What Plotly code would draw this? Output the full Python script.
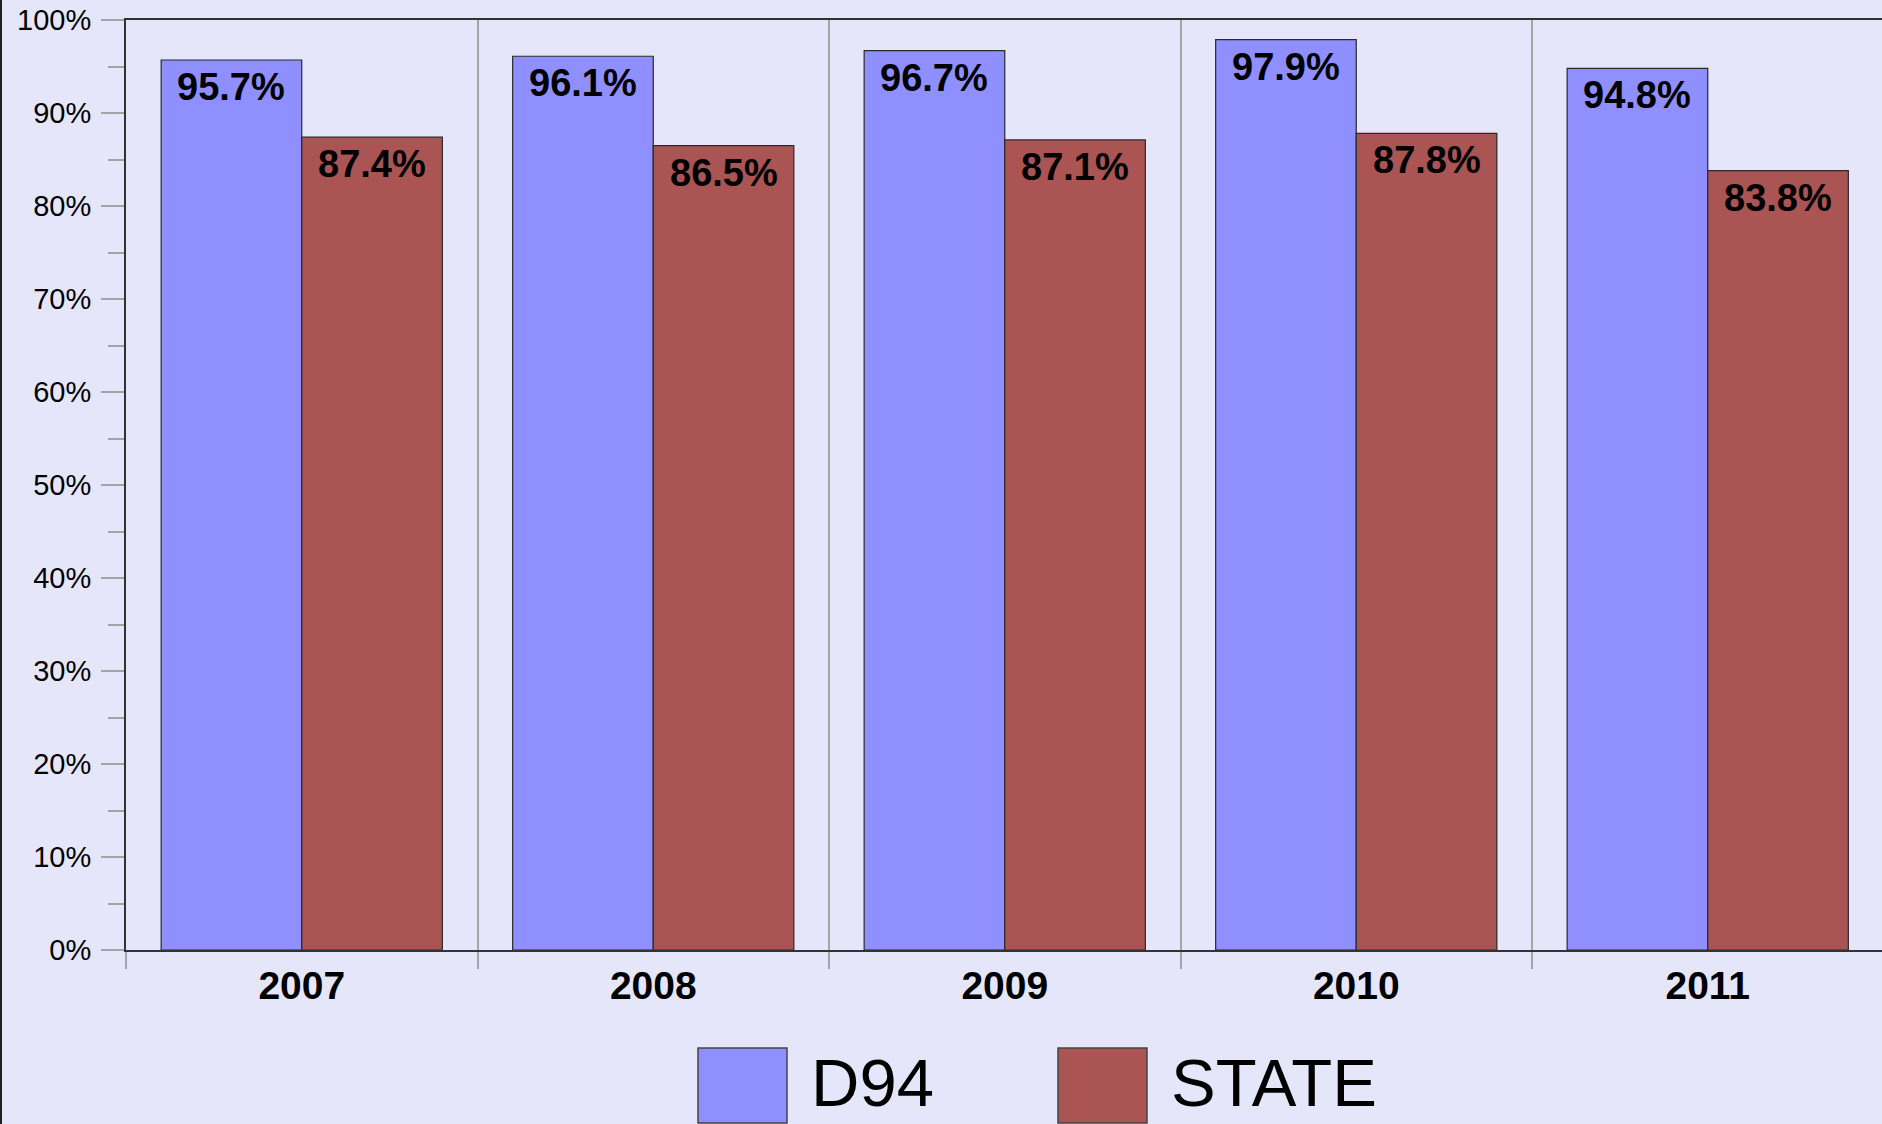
import plotly.graph_objects as go

# ---- data ----
years = ["2007", "2008", "2009", "2010", "2011"]
d94 = [95.7, 96.1, 96.7, 97.9, 94.8]
state = [87.4, 86.5, 87.1, 87.8, 83.8]
series_names = ["D94", "STATE"]
y_tick_vals = [0, 10, 20, 30, 40, 50, 60, 70, 80, 90, 100]
y_tick_text = ["0%", "10%", "20%", "30%", "40%", "50%", "60%", "70%", "80%", "90%", "100%"]

# ---- style / layout constants ----
W, H = 1882, 1124
L, R, T, B = 126, 0, 20, 174
PW, PH = W - L - R, H - T - B
BG = "#E6E6FA"
colors = ["#8F8FFF", "#AA5454"]
edge = "#2a2a2a"
tick_gray = "#a4a4a4"
cat_px = 351.5

series_vals = [d94, state]
minor_vals = [v + 5 for v in y_tick_vals[:-1]]

fig = go.Figure()
for name, vals, col in zip(series_names, series_vals, colors):
    fig.add_trace(go.Bar(
        x=years, y=vals, name=name,
        marker=dict(color=col, line=dict(color=edge, width=1.2)),
        showlegend=False, hoverinfo="x+y+name",
    ))

# value labels inside top of bars
offsets = [-0.2, 0.2]
annotations = []
for vals, off in zip(series_vals, offsets):
    for i, v in enumerate(vals):
        annotations.append(dict(
            x=i + off, y=v, xref="x", yref="y",
            text=f"{v:.1f}%", showarrow=False,
            xanchor="center", yanchor="middle", yshift=-27,
            font=dict(family="Liberation Sans, Arial, sans-serif", size=38, color="black", weight="bold"),
        ))

# custom legend (large swatches)
def px_to_paper_x(px):
    return (px - L) / PW

def px_to_paper_y(py):
    return (T + PH - py) / PH

shapes = []
leg_x0 = 698
leg_step = 360
sw_w, sw_top, sw_bot = 89, 1048, 1123
for k, (name, col) in enumerate(zip(series_names, colors)):
    x0 = leg_x0 + k * leg_step
    shapes.append(dict(
        type="rect", xref="paper", yref="paper",
        x0=px_to_paper_x(x0), x1=px_to_paper_x(x0 + sw_w),
        y0=px_to_paper_y(sw_bot), y1=px_to_paper_y(sw_top),
        fillcolor=col, line=dict(color="#444", width=1.5), layer="above",
    ))
    annotations.append(dict(
        x=px_to_paper_x(x0 + sw_w + 22), y=px_to_paper_y(1082),
        xref="paper", yref="paper", text=name, showarrow=False,
        xanchor="left", yanchor="middle",
        font=dict(family="Liberation Sans, Arial, sans-serif", size=67, color="black"),
    ))

# left border line of the image
shapes.append(dict(
    type="line", xref="paper", yref="paper",
    x0=px_to_paper_x(1), x1=px_to_paper_x(1),
    y0=px_to_paper_y(H), y1=px_to_paper_y(0),
    line=dict(color="#222", width=2),
))

fig.update_layout(
    width=W, height=H,
    margin=dict(l=L, r=R, t=T, b=B, pad=0, autoexpand=False),
    paper_bgcolor=BG, plot_bgcolor=BG,
    barmode="group", bargap=0.2, bargroupgap=0.0,
    showlegend=False,
    annotations=annotations, shapes=shapes,
    font=dict(family="Liberation Sans, Arial, sans-serif", color="black"),
    xaxis=dict(
        type="category", categoryorder="array", categoryarray=years,
        range=[-0.5, -0.5 + PW / cat_px], automargin=False,
        tickson="boundaries", ticks="outside", ticklen=17, tickwidth=2, tickcolor=tick_gray,
        showgrid=True, gridcolor=tick_gray, gridwidth=2,
        showline=True, linecolor="#333", linewidth=1.5, mirror=True,
        tickfont=dict(size=39, color="black", weight="bold"),
        fixedrange=True,
    ),
    yaxis=dict(
        range=[0, 100], tickmode="array", tickvals=y_tick_vals, ticktext=y_tick_text,
        ticks="outside", ticklen=23, tickwidth=1.5, tickcolor=tick_gray,
        minor=dict(tickmode="array", tickvals=minor_vals, ticks="outside", ticklen=16,
                   tickwidth=1.5, tickcolor=tick_gray, showgrid=False),
        showgrid=False, zeroline=False, automargin=False,
        showline=True, linecolor="#333", linewidth=2,
        tickfont=dict(size=29, color="black"),
        ticklabelstandoff=4,
        fixedrange=True,
    ),
    yaxis2=dict(
        overlaying="y", anchor="x", side="left",
        range=[0, 100], tickmode="array", tickvals=y_tick_vals,
        ticks="inside", ticklen=22, tickwidth=1.5, tickcolor=tick_gray,
        minor=dict(tickmode="array", tickvals=minor_vals, ticks="inside", ticklen=14,
                   tickwidth=1.5, tickcolor=tick_gray, showgrid=False),
        showticklabels=False, showgrid=False, zeroline=False, showline=False,
        automargin=False, fixedrange=True,
    ),
)

fig.write_html(
    "out.html",
    config={"displayModeBar": False},
    post_script="document.body.style.margin='0';document.body.style.overflow='hidden';"
                "document.body.style.background='" + BG + "';",
)
